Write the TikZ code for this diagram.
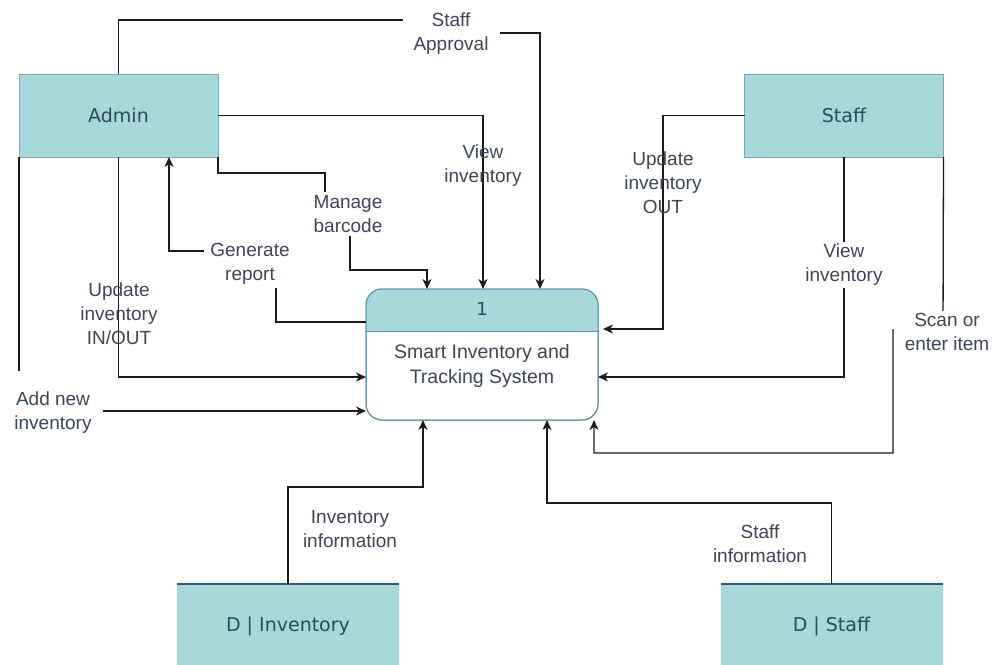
\documentclass[tikz,border=0pt]{standalone}
\usepackage{fontspec}
\setmainfont{Liberation Sans}
\newfontfamily\boxfont{DejaVu Sans}
\usetikzlibrary{arrows.meta}

\definecolor{entfill}{HTML}{A9D8DB}
\definecolor{entline}{HTML}{74ABB8}
\definecolor{procline}{HTML}{5B91A7}
\definecolor{storetop}{HTML}{2F5E7C}
\definecolor{flowline}{HTML}{1C1C1C}
\definecolor{lbltext}{HTML}{3B4759}
\definecolor{boxtext}{HTML}{2D4A57}

\begin{document}
\begin{tikzpicture}[x=1pt,y=-1pt,
  every node/.style={outer sep=0pt},
  entity/.style={draw=entline, fill=entfill, line width=1pt,
    minimum width=199pt, minimum height=83pt, inner sep=0pt,
    font=\boxfont\fontsize{19}{23}\selectfont, text=boxtext},
  store/.style={fill=entfill, draw=none, minimum width=222pt,
    minimum height=84pt, inner sep=0pt,
    font=\boxfont\fontsize{19}{23}\selectfont, text=boxtext},
  proc/.style={draw=procline, fill=white, line width=1pt,
    rounded corners=16pt, minimum width=232pt, minimum height=131pt},
  flow/.style={draw=flowline, line width=1.3pt,
    -{Stealth[length=10pt,width=9pt,inset=3pt]}},
  lbl/.style={font=\fontsize{19}{24}\selectfont, text=lbltext,
    align=center, inner sep=0pt},
  lblbg/.style={lbl, fill=white, inner xsep=11pt, inner ysep=3pt}]

\useasboundingbox (0,0) rectangle (992,664);
\fill[white] (0,0) rectangle (992,664);

% external entities
\node[entity] (admin) at (118.5,115.5) {Admin};
\node[entity] (staff) at (844,115.5) {Staff};

% process 1
\node[proc] (p) at (482,354.5) {};
\begin{scope}
  \clip (p.north west) rectangle ([yshift=-42pt]p.north east);
  \fill[entfill, rounded corners=16pt] (p.south west) rectangle (p.north east);
\end{scope}
\draw[procline, line width=1pt, rounded corners=16pt] (p.south west) rectangle (p.north east);
\draw[procline, line width=1pt] ([yshift=-42pt]p.north west) -- ([yshift=-42pt]p.north east);
\node[font=\boxfont\fontsize{18}{22}\selectfont, text=boxtext] (pnum) at (482,309) {1};
\node[lbl, font=\fontsize{19.5}{25}\selectfont] (ptitle) at (482,366) {Smart Inventory and\\Tracking System};

% data stores
\node[store] (dinv) at (288,626) {D | Inventory};
\draw[storetop, line width=2pt] (dinv.north west) -- (dinv.north east);
\node[store] (dstaff) at (831.5,626) {D | Staff};
\draw[storetop, line width=2pt] (dstaff.north west) -- (dstaff.north east);

% data flows
\draw[flow] (admin.north) |- (448,20) -- (448,33) -- (540,33) -- ([xshift=58pt]p.north);
\draw[flow] (admin.east) -| ([xshift=1pt]p.north);
\draw[flow] (admin.south east) -- (218,173) -- (325,173) -- (325,213) -- (350,213)
  -- (350,270) -- (427,270) -- ([xshift=-55pt]p.north);
\draw[flow] ([yshift=32.5pt]p.west) -- (276,322) -- (276,251) -- (169,251)
  -- ([xshift=50.5pt]admin.south);
\draw[flow] (admin.south) |- ([yshift=-22.5pt]p.west);
\draw[flow] (admin.south west) |- ([yshift=-56.5pt]p.west);
\draw[flow, shorten >=5pt] (staff.west) -| (663,329) -- ([yshift=25.5pt]p.east);
\draw[flow] (staff.south) |- ([yshift=-22.5pt]p.east);
\draw[flow] (staff.south east) -- (943,330) -- (893,330) -- (893,453) -- (594,453)
  -- ([xshift=112pt]p.south);
\draw[flow] (dinv.north) |- (423,487) -- ([xshift=-59pt]p.south);
\draw[flow] (dstaff.north) |- (547,503) -- ([xshift=65pt]p.south);

% flow labels
\node[lblbg] (lsa) at (451,34) {Staff\\Approval};
\node[lbl] (lvia) at (483,166) {View\\inventory};
\node[lblbg, inner xsep=2pt] (lmb) at (348,214) {Manage\\barcode};
\node[lblbg, inner xsep=6pt] (lgr) at (250,264) {Generate\\report};
\node[lbl] (luio) at (119,314) {Update\\inventory\\IN/OUT};
\node[lblbg, minimum width=100pt, minimum height=84pt] (lani) at (53,413) {Add new\\inventory};
\node[lbl] (luo) at (663,183) {Update\\inventory\\OUT};
\node[lblbg, inner ysep=2pt] (lvis) at (844,265) {View\\inventory};
\node[lblbg, inner ysep=2pt] (lsei) at (947,332) {Scan or\\enter item};
\node[lbl] (lii) at (350,529) {Inventory\\information};
\node[lbl] (lsi) at (760,544) {Staff\\information};

\end{tikzpicture}
\end{document}
